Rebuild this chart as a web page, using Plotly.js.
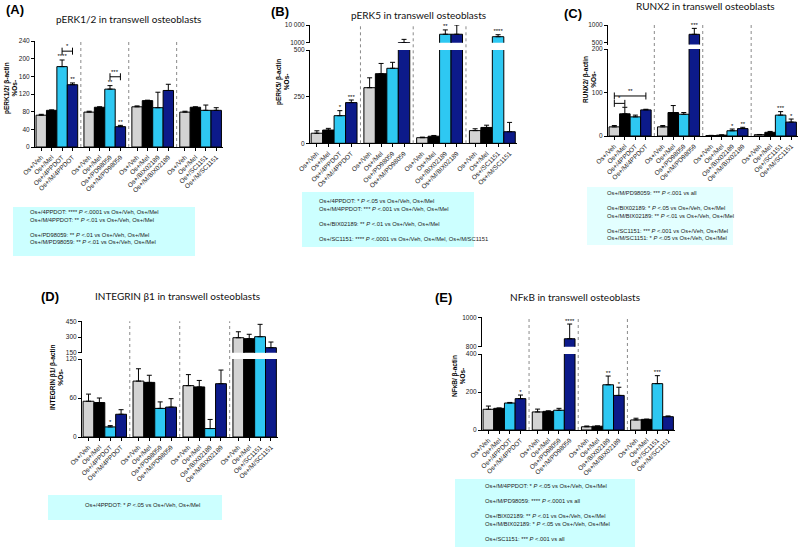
<!DOCTYPE html>
<html>
<head>
<meta charset="utf-8">
<script src="https://cdn.plot.ly/plotly-3.0.1.min.js"></script>
<style>body{margin:0;background:#fff}#fig{width:800px;height:547px}</style>
</head>
<body>
<div id="fig"></div>
<script>
// treatments in each block of four bars
var inhibitors = ['4PPDOT', 'PD98059', 'BIX02189', 'SC1151'];
var tickLabels = [];
inhibitors.forEach(function (inh) {
    tickLabels.push('Os+/Veh', 'Os+/Mel', 'Os+/' + inh, 'Os+/M/' + inh);
});

// (A) pERK1/2
var erk12Mean = [72, 83, 182, 141, 79, 90, 131, 46, 91, 105, 89, 128, 79, 90, 83, 83];
var erk12Sem = [2, 1, 15, 4, 2, 1, 8, 3, 2, 1, 35, 14, 2, 1, 12, 6];
var erk12Stars = ['', '', '****', '**', '', '', '**', '**', '', '', '', '', '', '', '', ''];

// (B) pERK5
var erk5Mean = [54, 71, 148, 218, 298, 373, 402, 1100, 30, 38, 5300, 5300, 68, 85, 4050, 62];
var erk5Sem = [13, 9, 27, 14, 53, 55, 32, 1600, 3, 4, 2200, 4700, 10, 12, 1000, 50];
var erk5Stars = ['', '', '*', '***', '', '', '', '', '', '', '**', '', '', '', '****', ''];

// (C) RUNX2
var runx2Mean = [21, 51, 44, 60, 21, 54, 50, 733, 1, 2, 12, 17, 3, 8.5, 48, 32];
var runx2Sem = [3, 15, 4, 1.5, 3, 16, 4, 170, 0.5, 0.5, 4, 3, 0.5, 2, 8, 7];
var runx2Stars = ['', '', '', '', '', '', '', '***', '', '', '*', '**', '', '', '***', '*'];

// (D) INTEGRIN b1
var itgMean = [55, 53, 15.5, 35, 86, 84, 44, 46, 79, 77, 13, 82, 293, 284, 303, 198];
var itgSem = [11, 7, 2, 7, 19, 11, 10, 13, 17, 10, 14, 21, 57, 42, 118, 54];
var itgStars = ['', '', '*', '', '', '', '', '', '', '', '', '', '', '', '', ''];

// (E) NFkB
var nfkbMean = [109, 114, 142, 165, 95, 98, 104, 854, 17, 20, 238, 182, 53, 56, 244, 70];
var nfkbSem = [17, 2, 3, 19, 15, 3, 10, 100, 4, 1, 46, 43, 9, 1, 42, 4];
var nfkbStars = ['', '', '', '*', '', '', '', '****', '', '', '**', '*', '', '', '***', ''];

var barColors = ['#d3d3d3', '#000000', '#2ec8f2', '#0c1a8a'];

// pixel -> paper helpers
function PX(v) { return v / 800; }
function PY(v) { return 1 - v / 547; }

var groupStep = 4.6;
var xpos = tickLabels.map(function (t, i) { return Math.floor(i / 4) * groupStep + i % 4; });
var xRange = [-0.6, 17.45];

var data = [];
var layout = {
    width: 800, height: 547,
    margin: {l: 0, r: 0, t: 0, b: 0},
    paper_bgcolor: '#fff', plot_bgcolor: 'rgba(0,0,0,0)',
    showlegend: false,
    font: {family: 'Liberation Sans, Arial, sans-serif', size: 7, color: '#222'},
    shapes: [], annotations: []
};

function axName(id) { return (id[0] === 'x' ? 'xaxis' : 'yaxis') + id.slice(1); }

function yAxis(dom, range, vals, text, anchor) {
    return {
        domain: [PY(dom[0]), PY(dom[1])], range: range, anchor: anchor,
        tickvals: vals, ticktext: text || vals.map(String),
        showline: true, linecolor: '#000', linewidth: 1,
        ticks: 'outside', ticklen: 3, tickwidth: 1, tickcolor: '#000',
        showgrid: false, zeroline: false, tickfont: {size: 6.5}, fixedrange: true
    };
}

function barTrace(p, xa, ya) {
    return {
        type: 'bar', x: xpos, y: p.mean, width: 1, xaxis: xa, yaxis: ya,
        marker: {color: xpos.map(function (v, i) { return barColors[i % 4]; }), line: {color: '#000', width: 1}},
        error_y: {type: 'data', symmetric: false, array: p.sem, arrayminus: p.sem.map(function () { return 0; }),
                  color: '#000', thickness: 1, width: 2.5},
        hoverinfo: 'none'
    };
}

function starTrace(p, xa, ya, keep) {
    return {
        type: 'scatter', mode: 'text', xaxis: xa, yaxis: ya, cliponaxis: false,
        x: xpos, y: p.mean.map(function (m, i) { return m + p.sem[i]; }),
        text: p.stars.map(function (s, i) { return keep(p.mean[i] + p.sem[i]) ? s : ''; }),
        textposition: 'top center', textfont: {size: 6, color: '#000'}, hoverinfo: 'none'
    };
}

function note(x, y, text, font, extra) {
    var a = {xref: 'paper', yref: 'paper', x: PX(x), y: PY(y), text: text, showarrow: false,
             xanchor: 'center', yanchor: 'middle', font: font};
    for (var k in extra) a[k] = extra[k];
    layout.annotations.push(a);
}

function addPanel(p) {
    var xa = p.ids[0], ya = p.ids[1];
    layout[axName(xa)] = {
        domain: [PX(p.xdom[0]), PX(p.xdom[1])], range: xRange, anchor: ya,
        tickvals: xpos, ticktext: tickLabels, tickangle: -45,
        showline: true, linecolor: '#000', linewidth: 1,
        ticks: 'outside', ticklen: 3, tickcolor: '#000',
        showgrid: false, zeroline: false, tickfont: {size: 6.5}, fixedrange: true
    };
    layout[axName(ya)] = yAxis(p.lower, p.lowRange, p.lowTicks, null, xa);
    data.push(barTrace(p, xa, ya));
    data.push(starTrace(p, xa, ya, function (v) { return !p.upper || v <= p.lowRange[1]; }));
    var top = p.lower[1];
    if (p.upper) {
        var xu = p.ids[2], yu = p.ids[3];
        layout[axName(xu)] = {domain: [PX(p.xdom[0]), PX(p.xdom[1])], range: xRange, anchor: yu, visible: false, fixedrange: true};
        layout[axName(yu)] = yAxis(p.upper, p.upRange, p.upTicks, p.upText, xu);
        data.push(barTrace(p, xu, yu));
        data.push(starTrace(p, xu, yu, function (v) { return v > p.lowRange[1]; }));
        top = p.upper[1];
    }
    // dotted separators between blocks
    for (var g = 1; g < 4; g++) {
        var sx = g * groupStep - 0.8;
        layout.shapes.push({type: 'line', xref: xa, yref: 'paper', x0: sx, x1: sx,
            y0: PY(p.lower[0]), y1: PY(top), line: {color: '#8a8a8a', width: 1, dash: 'dot'}});
    }
    // comparison brackets
    (p.brackets || []).forEach(function (b) {
        data.push({type: 'scatter', mode: 'lines+markers', xaxis: xa, yaxis: ya,
            x: [xpos[b.from], xpos[b.to]], y: [b.y, b.y],
            line: {color: '#000', width: 1}, marker: {symbol: 'line-ns-open', size: 5, color: '#000', line: {width: 1}},
            hoverinfo: 'none'});
        layout.annotations.push({xref: xa, yref: ya, x: (xpos[b.from] + xpos[b.to]) / 2, y: b.y,
            text: b.text, showarrow: false, xanchor: 'center', yanchor: 'bottom', font: {size: 6, color: '#000'}});
    });
    // panel letter, title, y title
    note(p.letterAt[0], p.letterAt[1], '<b>' + p.letter + '</b>', {size: 13, color: '#000', family: 'Liberation Sans, Arial'});
    note(p.titleAt[0], p.titleAt[1], p.title, {size: 10, color: '#111', family: 'Lato, sans-serif'});
    note(p.ytitleAt[0], p.ytitleAt[1], '<b>' + p.ytitle + '</b><br><b>%Os-</b>', {size: 6.5, color: '#000'}, {textangle: -90});
    // stats box
    layout.shapes.push({type: 'rect', xref: 'paper', yref: 'paper', layer: 'below',
        x0: PX(p.box[0]), x1: PX(p.box[1]), y0: PY(p.box[3]), y1: PY(p.box[2]),
        fillcolor: p.boxColor || '#ccffff', line: {width: 0}});
    note(p.boxText[0], p.boxText[1], p.notes.join('<br>'), {size: 5.8, color: '#222'}, {xanchor: 'left', align: 'left'});
}

addPanel({
    ids: ['x', 'y'], xdom: [35, 223], lower: [147, 41], lowRange: [0, 240], lowTicks: [0, 40, 80, 120, 160, 200, 240],
    mean: erk12Mean, sem: erk12Sem, stars: erk12Stars,
    brackets: [{from: 2, to: 3, y: 217, text: '*'}, {from: 6, to: 7, y: 159, text: '***'}],
    letter: '(A)', letterAt: [15, 10], title: 'pERK1/2 in transwell osteoblasts', titleAt: [128, 19],
    ytitle: 'pERK1/2/ β-actin', ytitleAt: [10, 88],
    box: [13, 195, 207, 256], boxText: [28, 227],
    notes: ['Os+/4PPDOT: **** <i>P</i> <.0001 vs Os+/Veh, Os+/Mel', 'Os+/M/4PPDOT: ** <i>P</i> <.01 vs Os+/Veh, Os+/Mel', '',
            'Os+/PD98059: ** <i>P</i> <.01 vs Os+/Veh, Os+/Mel', 'Os+/M/PD98059: ** <i>P</i> <.01 vs Os+/Veh, Os+/Mel']
});

addPanel({
    ids: ['x2', 'y2', 'x3', 'y3'], xdom: [310, 517],
    lower: [143.3, 50], lowRange: [0, 500], lowTicks: [0, 250, 500],
    upper: [42.7, 25], upRange: [1000, 10000], upTicks: [1000, 10000], upText: ['1000', '10 000'],
    mean: erk5Mean, sem: erk5Sem, stars: erk5Stars,
    letter: '(B)', letterAt: [280, 12], title: 'pERK5 in transwell osteoblasts', titleAt: [418, 15],
    ytitle: 'pERK5/ β-actin', ytitleAt: [282, 82],
    box: [302, 474, 192, 247], boxText: [317, 220],
    notes: ['Os+/4PPDOT: * <i>P</i> <.05 vs Os+/Veh, Os+/Mel', 'Os+/M/4PPDOT: *** <i>P</i> <.001 vs Os+/Veh, Os+/Mel', '',
            'Os+/BIX02189: ** <i>P</i> <.01 vs Os+/Veh, Os+/Mel', '',
            'Os+/SC1151: **** <i>P</i> <.0001 vs Os+/Veh, Os+/Mel, Os+/M/SC1151']
});

addPanel({
    ids: ['x4', 'y4', 'x5', 'y5'], xdom: [608, 798],
    lower: [136, 49], lowRange: [0, 200], lowTicks: [0, 100, 200],
    upper: [44.5, 25], upRange: [440, 1000], upTicks: [500, 1000],
    mean: runx2Mean, sem: runx2Sem, stars: runx2Stars,
    brackets: [{from: 0, to: 1, y: 75, text: '*'}, {from: 0, to: 3, y: 92, text: '**'}],
    letter: '(C)', letterAt: [573, 13], title: 'RUNX2 in transwell osteoblasts', titleAt: [705, 6],
    ytitle: 'RUNX2/ β-actin', ytitleAt: [590, 80],
    box: [587, 733, 187, 245], boxText: [605, 215], boxColor: '#e3ffff',
    notes: ['Os+/M/PD98059: *** <i>P</i> <.001 vs all', '',
            'Os+/BIX02189: * <i>P</i> <.05 vs Os+/Veh, Os+/Mel', 'Os+/M/BIX02189: ** <i>P</i> <.01 vs Os+/Veh, Os+/Mel', '',
            'Os+/SC1151: *** <i>P</i> <.001 vs Os+/Veh, Os+/Mel', 'Os+/M/SC1151: * <i>P</i> <.05 vs Os+/Veh, Os+/Mel']
});

addPanel({
    ids: ['x6', 'y6', 'x7', 'y7'], xdom: [82, 278],
    lower: [437, 359], lowRange: [0, 120], lowTicks: [0, 60, 120],
    upper: [352.7, 321.3], upRange: [150, 450], upTicks: [150, 300, 450],
    mean: itgMean, sem: itgSem, stars: itgStars,
    letter: '(D)', letterAt: [50, 296], title: 'INTEGRIN β1 in transwell osteoblasts', titleAt: [177, 296],
    ytitle: 'INTEGRIN β1/ β-actin', ytitleAt: [56, 378],
    box: [48, 222, 495, 520], boxText: [83, 505],
    notes: ['Os+/4PPDOT: * <i>P</i> <.05 vs Os+/Veh, Os+/Mel']
});

addPanel({
    ids: ['x8', 'y8', 'x9', 'y9'], xdom: [482, 675],
    lower: [430, 354], lowRange: [0, 400], lowTicks: [0, 200, 400],
    upper: [346.7, 317.3], upRange: [800, 1000], upTicks: [800, 1000],
    mean: nfkbMean, sem: nfkbSem, stars: nfkbStars,
    letter: '(E)', letterAt: [443, 298], title: 'NFκB in transwell osteoblasts', titleAt: [575, 297],
    ytitle: 'NFκB/ β-actin', ytitleAt: [458, 376],
    box: [455, 635, 479, 547], boxText: [483, 512],
    notes: ['Os+/M/4PPDOT: * <i>P</i> <.05 vs Os+/Veh, Os+/Mel', '',
            'Os+/M/PD98059: **** <i>P</i> <.0001 vs all', '',
            'Os+/BIX02189: ** <i>P</i> <.01 vs Os+/Veh, Os+/Mel', 'Os+/M/BIX02189: * <i>P</i> <.05 vs Os+/Veh, Os+/Mel', '',
            'Os+/SC1151: *** <i>P</i> <.001 vs all']
});

Plotly.newPlot('fig', data, layout, {staticPlot: true});
</script>
</body>
</html>
